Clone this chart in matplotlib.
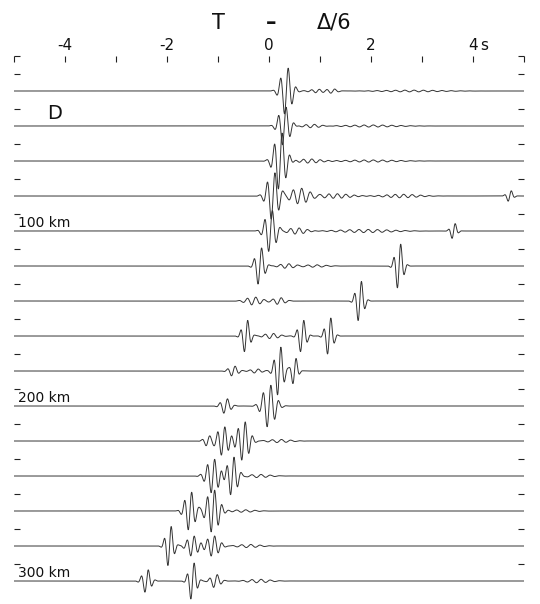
import numpy as np
import matplotlib
matplotlib.use("Agg")
import matplotlib.pyplot as plt

# ---- data read from the record section ----
distances_km = [20, 40, 60, 80, 100, 120, 140, 160, 180, 200, 220, 240, 260, 280, 300]
distance_labels = {100: "100 km", 200: "200 km", 300: "300 km"}

# wavelet arrivals per trace: (centre time s, amplitude km-units, frequency Hz, half-width s)
arrivals = [
    [(0.34, 14.0, 6.5, 0.14), (0.95, 1.0, 6.5, 0.2), (1.25, 1.2, 6.0, 0.12), (2.8, 0.5, 5.5, 0.8)],
    [(0.30, 11.5, 6.5, 0.14), (0.85, 1.0, 6.0, 0.25), (2.0, 0.6, 5.5, 0.7)],
    [(0.22, 17.0, 6.5, 0.15), (0.80, 1.2, 6.0, 0.3), (2.0, 0.6, 5.5, 0.7)],
    [(0.08, 14.0, 6.5, 0.15), (0.60, 4.5, 6.0, 0.25), (1.3, 1.3, 6.0, 0.4), (2.6, 1.0, 6.0, 0.45),
     (4.72, 3.5, 7.0, 0.08)],
    [(0.03, 12.5, 6.5, 0.14), (0.55, 1.8, 6.0, 0.25), (1.9, 0.9, 5.5, 0.7), (3.62, 5.0, 7.0, 0.08)],
    [(-0.18, 11.5, 6.5, 0.11), (0.35, 1.3, 6.0, 0.2), (0.9, 0.7, 5.5, 0.3), (2.55, 14.0, 7.0, 0.1)],
    [(-0.30, 2.3, 6.0, 0.2), (0.2, 2.0, 6.0, 0.15), (1.78, 12.5, 7.0, 0.1)],
    [(-0.45, 10.0, 7.0, 0.1), (0.05, 1.5, 6.0, 0.2), (0.65, 10.0, 7.0, 0.1), (1.18, 11.5, 7.0, 0.1)],
    [(-0.70, 3.0, 6.5, 0.12), (-0.25, 1.2, 6.0, 0.15), (0.20, 15.0, 7.0, 0.11), (0.50, 8.5, 7.0, 0.08)],
    [(-0.85, 4.5, 6.5, 0.12), (0.00, 12.5, 6.5, 0.16)],
    [(-1.20, 3.0, 6.5, 0.1), (-0.90, 8.5, 7.0, 0.15), (-0.50, 11.5, 7.0, 0.15), (0.2, 0.9, 5.5, 0.3)],
    [(-1.10, 10.0, 7.0, 0.16), (-0.72, 11.5, 7.0, 0.13), (-0.2, 0.9, 5.5, 0.3)],
    [(-1.55, 11.5, 7.0, 0.13), (-1.10, 12.5, 7.0, 0.16), (-0.5, 0.7, 5.5, 0.3)],
    [(-1.95, 12.5, 7.0, 0.1), (-1.50, 6.0, 7.0, 0.14), (-1.10, 6.0, 7.0, 0.16), (-0.4, 0.9, 5.5, 0.3)],
    [(-2.40, 7.0, 7.0, 0.11), (-1.50, 11.5, 7.0, 0.1), (-1.05, 4.0, 6.5, 0.12), (-0.2, 1.0, 5.5, 0.3)],
]

major_ticks = [-4, -2, 0, 2]
major_labels = ["-4", "-2", "0", "2"]
last_tick, last_label, unit_label = 4, "4", "s"

# ---- figure ----
W, H, DPI = 540, 604, 100
fig = plt.figure(figsize=(W / DPI, H / DPI), dpi=DPI)
ax_left, ax_right, ax_top = 14, 524, 56
ax = fig.add_axes([ax_left / W, 0, (ax_right - ax_left) / W, 1 - ax_top / H])
ax.set_xlim(-5, 5)
ax.set_ylim((H - ax_top) / 1.75, 0)

t = np.arange(-5.0, 5.0, 0.004)
for d, arr in zip(distances_km, arrivals):
    sig = np.zeros_like(t)
    for (tc, a, f, w) in arr:
        sig += a * np.exp(-((t - tc) / w) ** 2) * np.sin(2 * np.pi * f * (t - tc))
    ax.plot(t, d - sig, color="#333333", lw=0.7)

for d, lab in distance_labels.items():
    ax.text(-4.93, d - 0.6, lab, fontsize=10, ha="left", va="bottom", color="#111")

ax.text(-4.36, 38.0, "D", fontsize=14, ha="left", va="bottom", color="#111")

# axis ticks
for s in ax.spines.values():
    s.set_visible(False)
ax.set_xticks(np.arange(-5, 6, 1))
ax.set_xticklabels([])
ax.set_yticks([0] + list(range(10, 300, 20)))
ax.set_yticklabels([])
ax.tick_params(axis="x", top=True, bottom=False, direction="in", length=4, width=0.8, color="#222")
ax.tick_params(axis="y", left=True, right=True, direction="in", length=4, width=0.8, color="#222")

for x, lab in zip(major_ticks + [last_tick], major_labels + [last_label]):
    ax.annotate(lab, xy=(x, 1), xycoords=("data", "axes fraction"), xytext=(0, 4.5),
                textcoords="offset points", ha="center", va="baseline", fontsize=11, color="#111")
ax.annotate(unit_label, xy=(4.22, 1), xycoords=("data", "axes fraction"), xytext=(0, 4.5),
            textcoords="offset points", ha="center", va="baseline", fontsize=11, color="#111")

# title  T - Δ/6
for x, lab, fw in [(-1.0, "T", "normal"), (0.04, "–", "bold"), (1.27, "Δ/6", "normal")]:
    ax.annotate(lab, xy=(x, 1), xycoords=("data", "axes fraction"), xytext=(0, 19.5),
                textcoords="offset points", ha="center", va="baseline", fontsize=15,
                fontweight=fw, color="#111")

fig.savefig("out.png", dpi=DPI)
